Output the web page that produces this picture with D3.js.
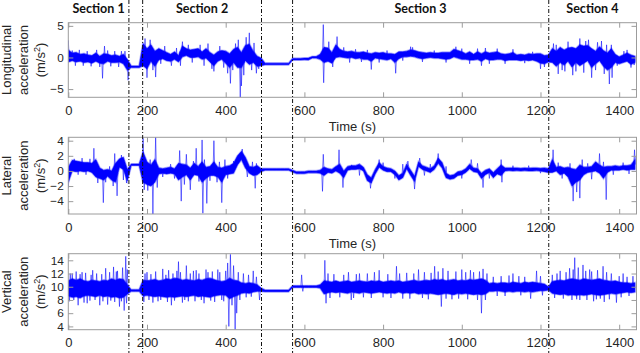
<!DOCTYPE html>
<html>
<head>
<meta charset="utf-8">
<script src="https://cdn.jsdelivr.net/npm/d3@7"></script>
<style>
  body { margin: 0; background: #fff; }
  svg { display: block; }
  text { font-family: Arial, "Liberation Sans", sans-serif; }
</style>
</head>
<body>
<div id="chart"></div>
<script>
// samples every 10 s, core band (lo/hi) of each signal
const binStep = 10;
const timeBins = d3.range(0, 1450, binStep);
const xTicks = [0, 200, 400, 600, 800, 1000, 1200, 1400];

const sectionBounds = [154, 189, 491, 570, 1221];
const sectionNames = ['Section 1', 'Section 2', 'Section 3', 'Section 4'];
const sectionMids = [77, 340, 895, 1332];

// Longitudinal
const lonLo = [-0.7,-0.5,-0.7,-0.6,-0.8,-0.7,-0.9,-0.6,-0.9,-1.0,-0.6,-0.8,-0.8,-0.7,-1.0,
  -2.0,-1.6,-1.6,-1.6,
  -1.3,-1.8,-0.6,-1.4,-0.4,-0.2,-0.5,-0.6,-0.3,-0.7,
  0.1,0.3,0.0,0.0,0.1,-0.3,-0.1,-0.7,-1.3,-0.6,
  -0.3,-0.9,-1.6,-0.8,-1.6,-1.6,-0.5,-1.1,-0.8,-1.4,-1.3,
  -1.15,-1.15,-1.15,-1.15,-1.15,-1.15,-1.15,
  -0.4,-0.4,-0.4,-0.35,-0.4,-0.1,-0.1,-0.3,
  -0.8,-0.6,-0.9,0.0,0.1,0.0,-0.1,0.0,-0.2,-0.1,
  -0.3,-0.3,-0.6,-0.1,-0.2,-0.3,-0.4,-0.2,-0.8,-0.2,
  0.1,0.1,0.2,0.1,-0.1,-0.2,-0.1,0.0,-0.1,-0.1,
  -0.2,-0.3,-0.2,0.1,-0.1,-0.3,-0.3,-0.4,-0.4,-0.3,
  -0.6,-0.2,-0.4,-0.4,-0.3,-0.3,-0.5,-0.4,-0.4,-0.4,
  -0.5,-0.4,-0.5,-0.4,-0.6,-0.9,-1.0,-0.7,-0.8,-1.4,
  -0.8,-1.2,-0.6,-1.5,-0.8,-1.3,-0.9,-0.5,-1.6,-1.0,
  -0.5,-1.4,-2.0,-1.6,-0.8,-1.0,-0.8,-0.6,-1.1,-0.8];
const lonHi = [1.2,0.7,0.8,0.5,0.6,0.4,0.3,0.7,0.2,0.6,0.5,0.3,0.4,0.2,0.5,
  -0.3,-1.35,-1.35,-1.35,
  2.2,1.4,2.0,1.0,1.4,1.1,0.8,0.5,0.9,0.3,
  1.8,1.4,1.2,1.3,1.4,0.9,1.4,0.8,0.4,0.9,
  1.1,1.0,0.6,1.3,1.6,0.8,1.9,2.1,1.0,0.2,-0.1,
  -0.9,-0.9,-0.9,-0.9,-0.9,-0.9,-0.9,
  -0.15,-0.15,-0.15,-0.1,-0.1,0.15,0.15,0.5,
  1.6,1.5,0.8,2.0,1.3,1.0,0.9,1.0,0.8,0.8,
  0.9,0.7,0.6,0.8,0.7,0.8,0.6,0.6,0.5,0.9,
  0.9,1.0,1.2,1.1,0.9,0.8,0.7,0.8,0.7,0.7,
  0.8,0.8,0.8,1.3,1.1,0.9,0.6,0.9,0.5,0.9,
  0.6,0.9,0.7,0.8,0.9,0.6,0.5,0.6,0.8,0.4,
  0.5,0.4,0.6,0.5,0.6,0.6,0.3,0.4,1.4,1.0,
  1.6,1.2,1.5,1.6,1.4,2.0,1.8,1.9,1.4,1.0,
  1.7,1.1,0.7,1.4,0.5,0.1,0.4,0.7,0.4,0.2];
const lonSpikes = [[0,2.7],[10,1.1],[18,-1.3],[28,1.2],[38,-1.3],[48,1.0],[58,-1.4],
  [72,1.2],[80,-1.5],[87,-3.3],[92,1.8],[100,1.1],[108,-1.4],[118,1.0],[128,-1.5],
  [135,1.0],[144,1.0],[152,-3.6],
  [195,3.0],[200,-3.2],[208,2.8],[215,-2.0],[222,-3.1],[235,-1.0],[245,1.8],
  [262,-1.3],[275,1.5],[285,-1.3],[290,2.5],[305,2.0],[315,-0.8],[335,2.0],
  [345,-1.3],[355,2.2],[365,-1.8],[370,-2.2],[385,1.8],[395,-1.6],[405,-2.5],
  [412,-4.1],[418,-2.0],[425,2.2],[432,2.8],[437,-6.3],[440,-4.5],[446,-2.8],
  [452,3.2],[460,3.9],[466,-2.0],[472,2.3],[478,-2.5],[484,-1.8],
  [648,5.2],[649,-4.0],[662,2.5],[672,-1.5],[683,3.3],[700,1.6],[715,-0.8],
  [730,1.3],[745,-0.7],[760,1.2],[770,-1.9],[790,-0.8],[810,1.1],[832,-2.5],
  [850,-0.5],[870,1.7],[875,1.6],[900,-0.7],[930,1.1],[960,-0.8],[985,1.7],
  [1000,1.4],[1020,-1.0],[1040,1.4],[1050,-1.3],[1060,1.5],[1070,-1.0],
  [1090,1.4],[1110,-1.0],[1130,1.3],[1160,-0.9],[1180,0.9],[1200,-1.8],[1210,-1.5],
  [1233,2.2],[1240,2.0],[1245,-2.6],[1255,-2.0],[1262,-2.2],[1270,2.5],
  [1282,-2.8],[1290,-2.2],[1300,3.0],[1310,-2.4],[1315,2.6],[1322,2.8],
  [1330,-3.2],[1340,-2.0],[1345,2.4],[1355,2.6],[1362,-2.6],[1368,2.0],
  [1375,-4.2],[1380,2.0],[1382,-3.2],[1395,-1.3],[1412,1.0],[1420,1.2],
  [1430,-1.6],[1438,-1.2]];

// Lateral
const latLo = [-1.5,0.0,-0.1,0.0,-0.1,0.0,-0.2,-0.8,-1.0,-1.2,-0.7,-1.2,-1.5,0.5,0.2,
  -1.3,0.72,0.72,0.72,
  -1.5,-1.8,-2.0,-1.5,-0.4,-0.3,-0.4,-0.3,-0.4,-1.2,
  -0.8,-0.5,-1.2,-0.5,-0.6,-1.5,-1.0,-0.6,-0.6,-0.8,
  -1.5,-0.5,-0.4,-0.3,0.8,1.5,0.4,-0.3,-0.6,-0.5,-0.1,
  0.1,0.1,0.1,0.1,0.1,0.1,0.1,
  -0.15,-0.35,-0.35,-0.35,-0.25,-0.25,-0.25,-0.3,
  -0.6,-0.2,-0.3,0.0,-0.3,-0.9,0.1,0.2,0.2,0.3,
  0.0,-1.3,-1.6,-0.4,0.5,0.1,-0.1,-0.1,-0.5,-1.2,
  -0.9,0.3,-0.6,-1.4,0.6,0.2,0.0,-0.2,0.2,1.0,
  0.4,-0.9,-1.1,-1.0,-0.6,-0.5,-0.2,0.3,-0.1,-0.2,
  -1.0,-0.5,-0.2,-0.9,-0.4,-0.6,0.0,0.05,0.0,0.05,
  0.0,0.05,0.0,0.0,0.05,0.0,-0.1,-0.2,-0.2,0.0,
  -0.5,-0.3,-0.8,-2.0,-1.5,-1.2,-0.5,-0.2,-0.1,0.0,
  -0.3,-1.0,-0.2,0.1,0.1,0.1,0.2,0.1,0.2,0.2];
const latHi = [0.5,1.4,1.3,1.2,1.1,1.1,1.0,1.5,0.4,0.1,0.2,0.0,1.0,1.6,1.8,
  0.2,0.92,0.92,0.92,
  2.5,1.2,0.8,1.5,0.4,0.3,0.4,0.5,0.3,1.0,
  0.9,0.8,0.4,1.0,0.6,1.2,0.5,0.6,1.2,0.5,
  0.4,0.6,0.7,1.0,2.0,2.6,1.8,0.6,0.5,0.7,0.3,
  0.3,0.3,0.3,0.3,0.3,0.3,0.3,
  0.1,-0.1,-0.1,-0.1,0.0,0.0,0.0,0.1,
  0.5,0.3,0.2,0.6,0.9,0.0,0.6,0.7,0.7,0.9,
  0.5,-0.5,-0.9,0.2,1.1,0.6,0.4,0.3,0.0,-0.6,
  -0.3,0.9,0.1,-0.7,1.2,0.7,0.5,0.3,0.7,1.7,
  1.1,-0.3,-0.6,-0.5,-0.1,0.0,0.3,0.9,0.4,0.3,
  -0.3,0.1,0.3,-0.2,0.3,0.8,0.4,0.4,0.4,0.4,
  0.35,0.4,0.35,0.4,0.4,0.35,0.4,0.3,1.5,0.5,
  0.6,0.4,0.5,0.3,0.2,0.8,0.5,0.5,0.6,1.2,
  0.8,0.5,0.6,0.6,0.7,0.6,0.7,0.7,0.8,1.5];
const latSpikes = [[0,-2.2],[15,1.6],[25,-0.5],[35,1.7],[45,-0.5],[55,1.6],[65,3.0],
  [75,-1.6],[89,-4.2],[95,-1.5],[105,0.6],[114,-2.0],[118,2.3],[124,-3.3],
  [135,2.1],[140,-1.2],[148,-1.6],
  [190,4.3],[193,-2.5],[202,-2.6],[208,1.5],[215,-5.7],[222,4.5],[226,-2.2],
  [240,-0.8],[260,0.9],[270,-1.0],[283,2.7],[287,-4.0],[295,-1.8],[300,2.2],
  [310,-2.5],[318,1.3],[325,3.0],[332,-1.4],[340,4.1],[342,-5.6],[346,1.5],
  [352,-4.3],[360,-1.3],[370,4.0],[378,-1.5],[384,1.2],[390,-4.2],[398,1.5],
  [405,-1.0],[420,1.3],[442,2.9],[455,-0.8],[468,1.2],[475,-2.3],[478,1.0],
  [646,-2.7],[648,2.2],[688,2.8],[698,-2.2],[720,0.8],[740,-0.6],[768,-2.3],
  [790,1.5],[800,1.1],[830,-1.0],[850,0.9],[863,1.3],[880,-2.4],[893,1.7],
  [905,-0.6],[920,0.9],[940,2.3],[960,0.6],[1000,-1.0],[1024,1.5],[1040,1.0],
  [1054,-2.2],[1070,-1.0],[1100,1.5],[1102,-1.5],[1130,0.7],[1170,0.7],[1200,-0.3],
  [1232,2.8],[1245,1.1],[1255,-1.0],[1275,1.0],[1283,-4.0],[1292,-2.8],
  [1300,-3.6],[1306,1.5],[1320,1.0],[1330,-1.1],[1350,2.3],[1360,1.2],
  [1367,-3.8],[1385,-0.5],[1410,1.1],[1425,-0.4],[1439,2.8]];

// Vertical
const vertLo = [8.6,8.4,8.5,8.3,8.6,8.7,8.6,8.5,8.7,8.5,8.6,8.4,8.5,8.3,8.4,
  8.9,9.3,9.3,9.3,
  8.6,8.7,8.6,8.5,8.6,8.5,8.4,8.5,8.4,8.5,
  8.6,8.5,8.6,8.7,8.5,8.6,8.5,8.4,8.6,8.7,
  8.8,8.7,8.2,8.5,8.7,9.0,9.1,9.0,9.2,9.3,9.3,
  9.25,9.25,9.25,9.25,9.25,9.25,9.25,
  9.9,9.9,9.9,9.9,9.9,9.9,9.9,9.8,
  8.9,9.1,9.2,9.1,9.2,9.1,9.0,9.2,9.1,9.0,
  9.2,9.1,9.0,9.1,9.2,9.1,9.0,9.1,9.0,9.2,
  9.0,9.1,9.0,9.1,8.9,9.0,8.9,9.0,8.9,8.8,
  8.9,9.0,8.9,8.8,9.0,8.9,9.0,8.9,8.8,8.9,
  8.8,8.9,9.3,9.3,9.4,9.3,9.2,9.3,9.2,9.3,
  9.3,9.2,9.3,9.2,9.3,9.4,9.4,9.5,9.0,8.9,
  8.8,8.9,8.7,8.8,8.7,8.8,8.7,8.8,8.9,8.8,
  8.7,8.8,8.9,9.0,8.9,9.0,9.1,9.2,9.1,9.2];
const vertHi = [10.9,11.2,11.0,11.2,10.9,10.8,11.0,10.9,10.8,11.0,10.9,11.2,11.0,11.2,11.1,
  10.3,9.55,9.55,9.55,
  11.0,10.9,11.0,11.1,10.9,11.0,11.2,11.1,11.3,11.2,
  11.0,11.1,11.0,10.9,11.1,11.0,11.2,11.3,11.1,10.9,
  10.8,10.9,11.3,11.0,10.9,10.6,10.5,10.6,10.5,10.3,9.8,
  9.5,9.5,9.5,9.5,9.5,9.5,9.5,
  10.15,10.15,10.15,10.15,10.15,10.15,10.15,10.3,
  10.9,10.8,10.7,10.9,10.7,10.8,10.9,10.7,10.8,10.9,
  10.8,10.7,10.9,10.8,10.9,10.7,10.8,10.9,10.8,10.9,
  10.7,10.8,10.9,11.0,10.8,10.9,11.0,10.9,11.1,11.0,
  11.1,10.9,11.0,11.1,10.9,11.0,10.9,11.1,11.0,11.1,
  11.2,11.0,10.5,10.6,10.5,10.6,10.6,10.5,10.7,10.6,
  10.5,10.7,10.6,10.7,10.6,10.5,10.4,10.0,10.8,10.9,
  11.0,10.9,11.1,11.2,11.1,11.0,11.2,11.1,11.0,11.1,
  11.2,11.0,10.9,10.8,10.9,10.7,10.6,10.6,10.5,10.6];
const vertSpikes = [[3,7.8],[5,12.0],[10,12.0],[14,8.0],[20,12.3],[25,7.2],[30,11.9],
  [35,12.2],[40,7.6],[44,12.1],[48,7.5],[55,7.9],[58,11.8],[62,12.5],[68,8.0],
  [72,12.0],[80,7.2],[85,11.9],[88,7.8],[95,12.8],[100,7.3],[105,12.2],[108,7.9],
  [115,13.0],[118,7.7],[122,12.3],[125,12.4],[130,7.0],[135,7.8],[138,12.9],
  [142,6.4],[146,14.6],[148,7.5],[150,12.6],
  [192,7.7],[195,12.0],[200,12.2],[205,8.0],[210,11.9],[215,7.6],[222,12.3],
  [228,7.8],[235,8.0],[240,12.7],[248,11.8],[252,7.7],[255,12.5],[262,7.2],
  [266,12.0],[270,7.9],[276,12.4],[280,13.8],[285,12.2],[290,7.6],[296,8.0],
  [300,13.2],[305,7.8],[310,12.0],[318,12.4],[322,7.8],[325,12.5],[332,12.0],
  [338,8.0],[345,7.5],[350,12.6],[355,12.2],[362,7.9],[366,12.3],[372,7.7],
  [380,12.6],[385,12.2],[390,8.0],[395,7.8],[400,12.4],[405,13.6],[408,4.0],
  [412,14.9],[416,7.2],[420,13.2],[424,3.5],[428,6.0],[432,12.2],[436,8.0],
  [445,12.0],[452,8.4],[458,11.8],[465,8.5],[470,12.4],[478,11.5],[486,8.0],
  [593,11.8],[596,9.3],[652,14.0],[655,7.5],[660,12.0],[665,8.3],[675,11.9],
  [690,8.4],[700,11.8],[712,12.2],[719,8.0],[725,8.3],[732,11.9],[740,12.0],
  [750,8.4],[760,12.0],[770,8.3],[778,12.2],[790,12.5],[800,8.4],[812,11.9],
  [820,8.3],[834,13.1],[842,12.0],[850,8.2],[860,12.1],[868,8.2],[878,12.0],
  [890,12.6],[900,8.3],[905,12.2],[915,8.1],[922,12.1],[931,13.1],[940,12.3],
  [948,7.0],[952,12.8],[960,8.2],[965,12.4],[975,8.1],[985,12.3],[992,8.2],
  [1000,12.6],[1010,12.2],[1015,8.1],[1022,12.5],[1030,12.2],[1040,8.0],
  [1045,12.3],[1050,6.0],[1054,12.7],[1060,8.0],[1064,12.0],[1080,11.5],
  [1090,8.6],[1100,11.6],[1110,8.6],[1120,11.7],[1130,12.0],[1145,11.6],
  [1150,8.7],[1160,11.5],[1175,8.2],[1190,12.4],[1200,11.6],[1205,8.7],
  [1230,11.8],[1236,8.3],[1242,12.0],[1250,12.4],[1258,8.2],[1265,12.2],
  [1274,12.8],[1280,8.0],[1283,12.6],[1287,14.4],[1292,8.1],[1296,12.9],
  [1300,8.0],[1308,13.3],[1315,12.4],[1318,8.0],[1325,12.6],[1330,12.3],
  [1335,7.8],[1342,8.1],[1345,12.5],[1352,8.2],[1359,13.1],[1362,7.7],
  [1368,12.2],[1375,8.1],[1380,12.0],[1393,7.6],[1400,11.6],[1405,8.4],
  [1410,12.0],[1420,11.5],[1425,8.6],[1435,11.6]];

const width = 640;
const height = 353;
const [ml, mr] = [68.3, 3.5];

const panels = [
  { label: ['Longitudinal', 'acceleration'], lo: lonLo, hi: lonHi, spikes: lonSpikes,
    domain: [-6.3, 5.5], ticks: [-5, 0, 5], top: 22.7, bottom: 97.3, xLabel: true },
  { label: ['Lateral', 'acceleration'], lo: latLo, hi: latHi, spikes: latSpikes,
    domain: [-5.7, 4.45], ticks: [-4, -2, 0, 2, 4], top: 137.3, bottom: 214, xLabel: true },
  { label: ['Vertical', 'acceleration'], lo: vertLo, hi: vertHi, spikes: vertSpikes,
    domain: [3.5, 15], ticks: [4, 6, 8, 10, 12, 14], top: 253.7, bottom: 329.7, xLabel: false }
];

const svg = d3.select('#chart')
  .append('svg')
  .attr('width', width)
  .attr('height', height)
  .attr('viewBox', [0, 0, width, height]);

const x = d3.scaleLinear()
  .domain([0, 1444])
  .range([ml, width - mr]);

const frameColor = '#9c9c9c';
const textColor = '#262626';
const lineColor = '#0000ff';

panels.forEach((p, k) => {
  const y = d3.scaleLinear()
    .domain(p.domain)
    .range([p.bottom, p.top]);

  svg.append('clipPath').attr('id', 'clip' + k)
    .append('rect')
    .attr('x', x.range()[0]).attr('y', p.top)
    .attr('width', x.range()[1] - x.range()[0]).attr('height', p.bottom - p.top);

  const plot = svg.append('g').attr('clip-path', `url(#clip${k})`);

  // spikes first, then the dense core on top
  plot.selectAll('path.spike')
    .data(p.spikes)
    .join('path')
    .attr('class', 'spike')
    .attr('fill', 'none')
    .attr('stroke', lineColor)
    .attr('stroke-opacity', 0.6)
    .attr('stroke-width', 0.9)
    .attr('d', d => {
      const i = Math.min(p.lo.length - 1, Math.round(d[0] / binStep));
      const m = (p.lo[i] + p.hi[i]) / 2;
      return `M${x(d[0] - 2)},${y(m)}L${x(d[0])},${y(d[1])}L${x(d[0] + 2)},${y(m)}`;
    });

  const band = d3.area()
    .x((d, i) => x(timeBins[i]))
    .y0(d => y(d[0]))
    .y1(d => y(d[1]));

  // light fringe round the core
  plot.append('path')
    .datum(d3.zip(p.lo, p.hi))
    .attr('fill', 'none')
    .attr('stroke', lineColor)
    .attr('stroke-opacity', 0.25)
    .attr('stroke-width', 2.2)
    .attr('d', band);

  plot.append('path')
    .datum(d3.zip(p.lo, p.hi))
    .attr('fill', lineColor)
    .attr('stroke', lineColor)
    .attr('stroke-opacity', 0.7)
    .attr('stroke-width', 0.8)
    .attr('d', band);

  // box
  svg.append('rect')
    .attr('x', x.range()[0]).attr('y', p.top)
    .attr('width', x.range()[1] - x.range()[0]).attr('height', p.bottom - p.top)
    .attr('fill', 'none')
    .attr('stroke', frameColor);

  const styleAxis = size => g => {
    g.select('.domain').remove();
    g.selectAll('line').attr('stroke', frameColor);
    g.selectAll('text').attr('fill', textColor).style('font-size', size)
      .style('font-family', 'Arial, "Liberation Sans", sans-serif');
  };

  svg.append('g')
    .attr('transform', `translate(0,${p.bottom})`)
    .call(d3.axisBottom(x).tickValues(xTicks).tickFormat(d3.format('d')).tickSize(-5).tickPadding(8.5))
    .call(styleAxis('13px'));
  svg.append('g')
    .attr('transform', `translate(0,${p.top})`)
    .call(d3.axisTop(x).tickValues(xTicks).tickSize(-5).tickFormat(''))
    .call(styleAxis('13px'));
  svg.append('g')
    .attr('transform', `translate(${x.range()[0]},0)`)
    .call(d3.axisLeft(y).tickValues(p.ticks).tickSize(-5).tickPadding(4.5))
    .call(styleAxis('11.8px'));
  svg.append('g')
    .attr('transform', `translate(${x.range()[1]},0)`)
    .call(d3.axisRight(y).tickValues(p.ticks).tickSize(-5).tickFormat(''))
    .call(styleAxis('11.8px'));

  if (p.xLabel) {
    svg.append('text')
      .attr('x', (x.range()[0] + x.range()[1]) / 2)
      .attr('y', p.bottom + 34)
      .attr('text-anchor', 'middle')
      .attr('fill', textColor)
      .style('font-size', '13px')
      .text('Time (s)');
  }

  // y label, three lines
  const yc = (p.top + p.bottom) / 2;
  const lab = svg.append('g').attr('fill', textColor).style('font-size', '13px');
  p.label.forEach((s, j) => {
    lab.append('text')
      .attr('transform', `translate(${10.8 + 17.4 * j},${yc}) rotate(-90)`)
      .attr('text-anchor', 'middle')
      .text(s);
  });
  const unit = lab.append('text')
    .attr('transform', `translate(45.2,${yc}) rotate(-90)`)
    .attr('text-anchor', 'middle');
  unit.append('tspan').text('(m/s');
  unit.append('tspan').attr('dy', -5).style('font-size', '9px').text('2');
  unit.append('tspan').attr('dy', 5).text(')');
});

// section boundaries
svg.selectAll('line.section')
  .data(sectionBounds)
  .join('line')
  .attr('class', 'section')
  .attr('x1', d => x(d)).attr('x2', d => x(d))
  .attr('y1', 0).attr('y2', height)
  .attr('stroke', '#111')
  .attr('stroke-width', 1)
  .attr('stroke-dasharray', '4,2,1,2');

svg.selectAll('text.section')
  .data(sectionNames)
  .join('text')
  .attr('class', 'section')
  .attr('x', (d, i) => x(sectionMids[i]))
  .attr('y', 12.5)
  .attr('text-anchor', 'middle')
  .attr('fill', '#111')
  .style('font-family', 'Lato, "Open Sans", sans-serif')
  .style('font-weight', 'bold')
  .style('font-size', '12.5px')
  .text(d => d);
</script>
</body>
</html>
